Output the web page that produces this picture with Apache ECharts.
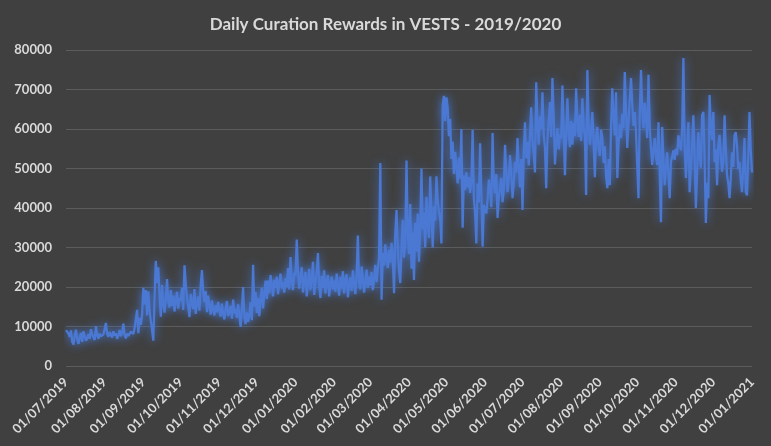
<!DOCTYPE html>
<html><head><meta charset="utf-8">
<script src="https://cdn.jsdelivr.net/npm/echarts@6/dist/echarts.min.js"></script>
<style>html,body{margin:0;padding:0;background:#404040}#c{width:771px;height:446px}</style>
</head><body><div id="c"></div>
<script>
// Daily curation rewards (VESTS), one array per month, starting 01/07/2019
const jul19 = [9100, 8600, 8200, 7400, 9000, 6200, 5400, 7800, 9200, 6800, 5600, 7200, 8400, 6100, 8800, 7600, 6400, 7000, 8100, 6900, 9300, 8000, 7300, 6600, 10100, 7800, 6900, 8200, 7500, 7100, 8000];
const aug19 = [7600, 10900, 8100, 7400, 8600, 7900, 7200, 8800, 7700, 8300, 6900, 7800, 9100, 7500, 8400, 10700, 7800, 7000, 8200, 7600, 7400, 8700, 9000, 8100, 9600, 11800, 14200, 8300, 12200, 10400, 12800];
const sep19 = [19800, 15500, 19200, 12800, 18900, 14000, 11500, 9000, 6400, 17500, 26600, 21000, 25000, 18000, 12500, 20500, 15800, 13500, 17000, 22000, 16500, 14800, 19200, 15200, 17800, 13800, 16400, 18800, 14500, 17200];
const oct19 = [16500, 19800, 14200, 25500, 20800, 17400, 15000, 12400, 18200, 16000, 14400, 19500, 13200, 15800, 17600, 14000, 20500, 24300, 18600, 16200, 19000, 13600, 17800, 15200, 13000, 16600, 14200, 12800, 15400, 13600, 16200];
const nov19 = [14000, 12500, 15800, 13200, 11800, 14600, 16400, 12600, 13800, 15200, 12000, 16800, 13400, 14400, 12200, 15600, 13000, 9900, 14800, 20000, 12400, 10600, 13600, 11200, 12800, 16200, 11600, 25600, 15000, 18800];
const dec19 = [13400, 17200, 12600, 16800, 19800, 14600, 18400, 21600, 17000, 21600, 18400, 23000, 20400, 17600, 21800, 19800, 22600, 18200, 20800, 23400, 19600, 21200, 18600, 22200, 20000, 24800, 19400, 27600, 21400, 19200, 23600];
const jan20 = [22800, 32000, 24000, 19600, 22400, 25000, 18600, 21600, 23800, 17600, 20800, 24600, 19200, 22000, 26400, 18000, 21200, 23600, 28600, 20400, 17200, 22800, 19800, 24200, 18400, 21400, 23000, 17600, 20600, 22600, 19400];
const feb20 = [21600, 18800, 23400, 20200, 17800, 22600, 19600, 24000, 18400, 21800, 23200, 17400, 20600, 22400, 19000, 24200, 20800, 18200, 23000, 33000, 21000, 19400, 25200, 22000, 18600, 21200, 24400, 19800, 22600];
const mar20 = [20400, 23800, 19200, 22000, 25600, 21200, 24600, 27400, 51400, 16800, 28600, 25400, 30800, 27200, 24800, 29400, 26200, 31200, 27800, 18400, 33600, 39500, 30400, 24200, 21000, 29800, 37000, 27400, 31800, 52000, 33400];
const apr20 = [28400, 41000, 24600, 33800, 21800, 36200, 29000, 38600, 26400, 35200, 50000, 34600, 38800, 30000, 42800, 36200, 32400, 48000, 38400, 30000, 40400, 36800, 48000, 42000, 39200, 37000, 31000, 66000, 68400, 62000];
const may20 = [68000, 65400, 58200, 62600, 52400, 56800, 48600, 54200, 50400, 46200, 52800, 47400, 60000, 35000, 48200, 44600, 49000, 45200, 47800, 43800, 46600, 59800, 42400, 38600, 31000, 46200, 41400, 56400, 44000, 30200, 40800];
const jun20 = [41000, 38600, 42000, 47200, 44500, 40200, 59000, 46400, 43800, 48600, 37500, 42800, 45000, 47600, 41500, 44600, 56000, 49200, 44000, 47800, 53400, 48600, 42500, 46200, 51600, 49000, 57700, 50400, 45200, 52400];
const jul20 = [39500, 54200, 61700, 52600, 56700, 50800, 58400, 65500, 57200, 53600, 49000, 71800, 61400, 56000, 63200, 60000, 69300, 58600, 55200, 45000, 57400, 62200, 66800, 58000, 72900, 63400, 51000, 56400, 60200, 54800, 58600];
const aug20 = [57600, 71000, 60400, 48300, 58800, 67800, 59600, 55400, 62000, 56000, 61500, 58200, 70300, 62400, 58000, 63600, 57000, 67800, 60200, 58500, 43300, 74900, 61800, 56000, 59400, 64300, 56800, 47800, 58200, 60500, 55000];
const sep20 = [53200, 59800, 57700, 51400, 55600, 48200, 45000, 52400, 45800, 60600, 70300, 62800, 58400, 69300, 47600, 55800, 61200, 57700, 63800, 60200, 74400, 64600, 55200, 61800, 67600, 72900, 66200, 60800, 64300, 59200];
const oct20 = [59200, 42500, 63600, 74900, 65200, 60200, 66600, 62400, 57700, 73700, 60600, 55400, 50900, 54800, 57700, 53200, 50900, 61700, 49600, 36400, 60500, 52200, 45800, 50400, 54100, 48600, 42500, 51800, 53000, 54600, 52200];
const nov20 = [55000, 53400, 58400, 56000, 54600, 60200, 78000, 55800, 47600, 54200, 61700, 44000, 50800, 56000, 63500, 52600, 40000, 48800, 59200, 53600, 50200, 63500, 64300, 52800, 36200, 46400, 42500, 68600, 60400, 57200];
const dec20 = [64300, 51600, 54800, 45800, 56000, 58500, 53400, 49200, 51600, 63500, 55200, 48300, 46200, 42500, 47600, 54100, 50400, 58500, 59200, 55800, 49800, 51600, 47200, 44000, 50600, 57700, 44000, 43200, 52800, 64300, 54600];
const jan21 = [49000];

const yTicks = [0, 10000, 20000, 30000, 40000, 50000, 60000, 70000, 80000];
const titleText = 'Daily Curation Rewards in VESTS - 2019/2020';

const values = [].concat(jul19, aug19, sep19, oct19, nov19, dec19, jan20, feb20, mar20, apr20, may20, jun20, jul20, aug20, sep20, oct20, nov20, dec20, jan21);
const pad = n => (n < 10 ? '0' : '') + n;
const categories = values.map((v, i) => {
  const d = new Date(Date.UTC(2019, 6, 1 + i));
  return pad(d.getUTCDate()) + '/' + pad(d.getUTCMonth() + 1) + '/' + d.getUTCFullYear();
});

const txt = '#d9d9d9';
const font = 'Lato, "Open Sans", sans-serif';
const chart = echarts.init(document.getElementById('c'), null, {renderer: 'canvas'});
chart.setOption({
  backgroundColor: '#404040',
  animation: false,
  title: {
    text: titleText, left: 'center', top: 11,
    textStyle: {color: txt, fontSize: 17, fontWeight: 'bold', fontFamily: font}
  },
  grid: {left: 66, right: 19, top: 50, bottom: 80, containLabel: false},
  xAxis: {
    type: 'category', data: categories, boundaryGap: false,
    axisLine: {show: false}, axisTick: {show: false},
    splitLine: {show: false},
    axisLabel: {
      interval: (idx, val) => val.slice(0, 2) === '01',
      rotate: 45, margin: 14, color: txt, fontSize: 13, fontWeight: 'bold', fontFamily: font
    }
  },
  yAxis: {
    type: 'value', min: yTicks[0], max: yTicks[yTicks.length - 1], interval: 10000,
    axisLine: {show: false}, axisTick: {show: false},
    splitLine: {lineStyle: {color: '#5c5c5c', width: 1}},
    axisLabel: {margin: 14, color: txt, fontSize: 13, fontWeight: 'bold', fontFamily: font,
      formatter: v => String(v)}
  },
  series: [{
    type: 'line', data: values, showSymbol: false, symbol: 'none',
    lineStyle: {width: 2.3, color: '#4a78d2', shadowBlur: 10, shadowColor: 'rgba(70,125,230,0.9)'}
  }]
});
</script></body></html>
